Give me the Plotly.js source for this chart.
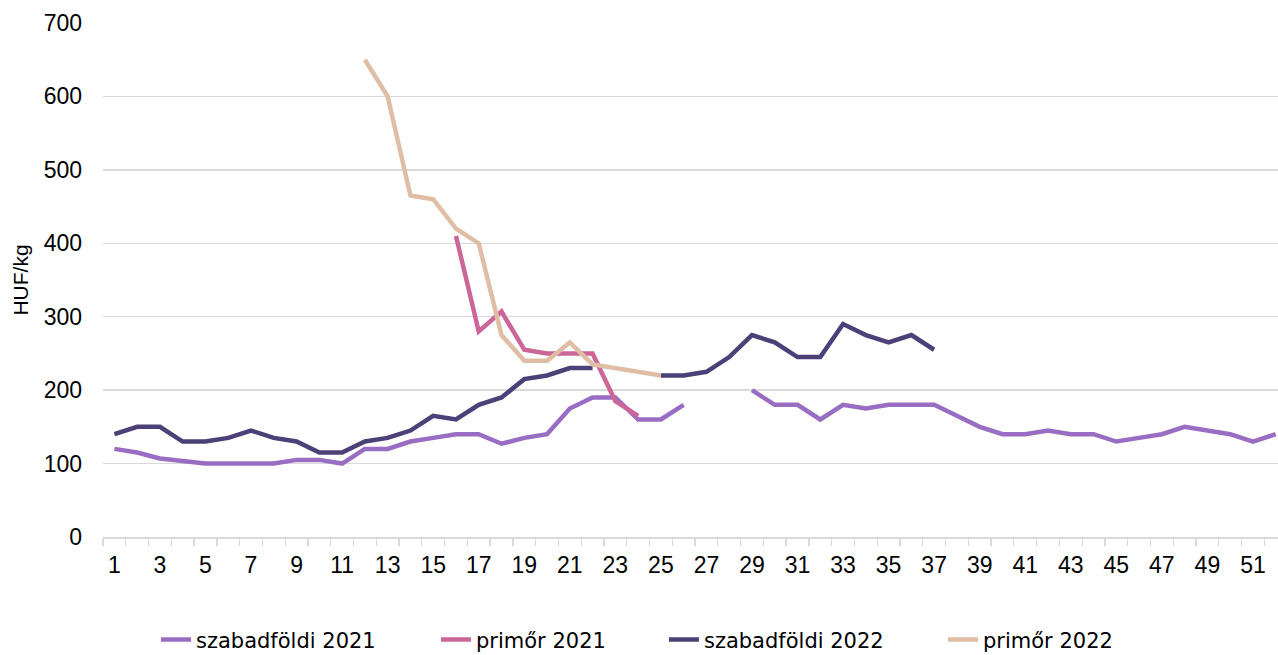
<!DOCTYPE html>
<html>
<head>
<meta charset="utf-8">
<script src="https://cdn.plot.ly/plotly-3.0.1.min.js"></script>
<style>
  html, body { margin: 0; padding: 0; background: #fff; }
  #chart { width: 1278px; height: 655px; }
</style>
</head>
<body>
<div id="chart"></div>
<script>
/* ─── Adatok: heti átlagár (HUF/kg) ─── */
const weeks = Array.from({ length: 52 }, (_, i) => i + 1);

const szabad2021 = [120,115,107,103,100,100,100,100,105,105,
                    100,120,120,130,135,140,140,127,135,140,
                    175,190,190,160,160,180,null,null,200,180,
                    180,160,180,175,180,180,180,165,150,140,
                    140,145,140,140,130,135,140,150,145,140,
                    130,140];

const primor2021 = [null,null,null,null,null,null,null,null,null,null,
                    null,null,null,null,null,410,280,307,255,250,
                    250,250,185,165,null,null,null,null,null,null,
                    null,null,null,null,null,null,null,null,null,null,
                    null,null,null,null,null,null,null,null,null,null,
                    null,null];

const szabad2022 = [140,150,150,130,130,135,145,135,130,115,
                    115,130,135,145,165,160,180,190,215,220,
                    230,230,null,null,220,220,225,245,275,265,
                    245,245,290,275,265,275,255,null,null,null,
                    null,null,null,null,null,null,null,null,null,null,
                    null,null];

const primor2022 = [null,null,null,null,null,null,null,null,null,null,
                    null,650,600,465,460,420,400,275,240,240,
                    265,235,230,225,220,null,null,null,null,null,
                    null,null,null,null,null,null,null,null,null,null,
                    null,null,null,null,null,null,null,null,null,null,
                    null,null];

const seriesNames = ['szabadföldi 2021', 'primőr 2021', 'szabadföldi 2022', 'primőr 2022'];
const seriesData = [szabad2021, primor2021, szabad2022, primor2022];
const seriesColors = ['#9a6dc4', '#cc6699', '#4b4077', '#dfbea5'];
const legendIds = ['legend', 'legend2', 'legend3', 'legend4'];
// bal szélek (paper) a jelmagyarázat elemeihez
const legendX = [0.0451, 0.2834, 0.4774, 0.7149];

const oddWeeks = weeks.filter(w => w % 2 === 1);

const traces = seriesData.map((ys, i) => ({
  x: weeks, y: ys, type: 'scatter', mode: 'lines', name: seriesNames[i],
  connectgaps: false, legend: legendIds[i],
  line: { color: seriesColors[i], width: 4.5 }
}));

const FONT = 'Liberation Sans, Arial, sans-serif';

const layout = {
  width: 1278, height: 655,
  margin: { l: 103, r: 0, t: 23, b: 118, autoexpand: false },
  paper_bgcolor: '#fff', plot_bgcolor: '#fff',
  font: { family: FONT, size: 23, color: '#000' },
  showlegend: true,
  xaxis: {
    range: [0.5, 52.1], tickmode: 'array', tickvals: oddWeeks,
    ticktext: oddWeeks.map(String), ticks: '', ticklabelstandoff: 7,
    showgrid: false, zeroline: false,
    showline: true, linecolor: '#d9d9d9', linewidth: 1.5,
    minor: { ticks: 'outside', tick0: 0.5, dtick: 1, ticklen: 7, tickcolor: '#d9d9d9', tickwidth: 1.3, showgrid: false },
    tickfont: { family: FONT, size: 23 }
  },
  yaxis: {
    range: [0, 700], dtick: 100, ticks: '', ticklabelstandoff: 20,
    showgrid: true, gridcolor: '#d9d9d9', gridwidth: 1.3,
    zeroline: false, showline: false,
    tickfont: { family: FONT, size: 23 },
    title: { text: 'HUF/kg', font: { family: FONT, size: 21 }, standoff: 9 }
  }
};

legendIds.forEach((id, i) => {
  layout[id] = {
    orientation: 'h', x: legendX[i], xanchor: 'left', y: -0.2, yanchor: 'middle',
    font: { family: 'DejaVu Sans, sans-serif', size: 21, color: '#000' },
    itemwidth: 30, bgcolor: 'rgba(0,0,0,0)'
  };
});

Plotly.newPlot('chart', traces, layout, { displayModeBar: false, staticPlot: true });
</script>
</body>
</html>
